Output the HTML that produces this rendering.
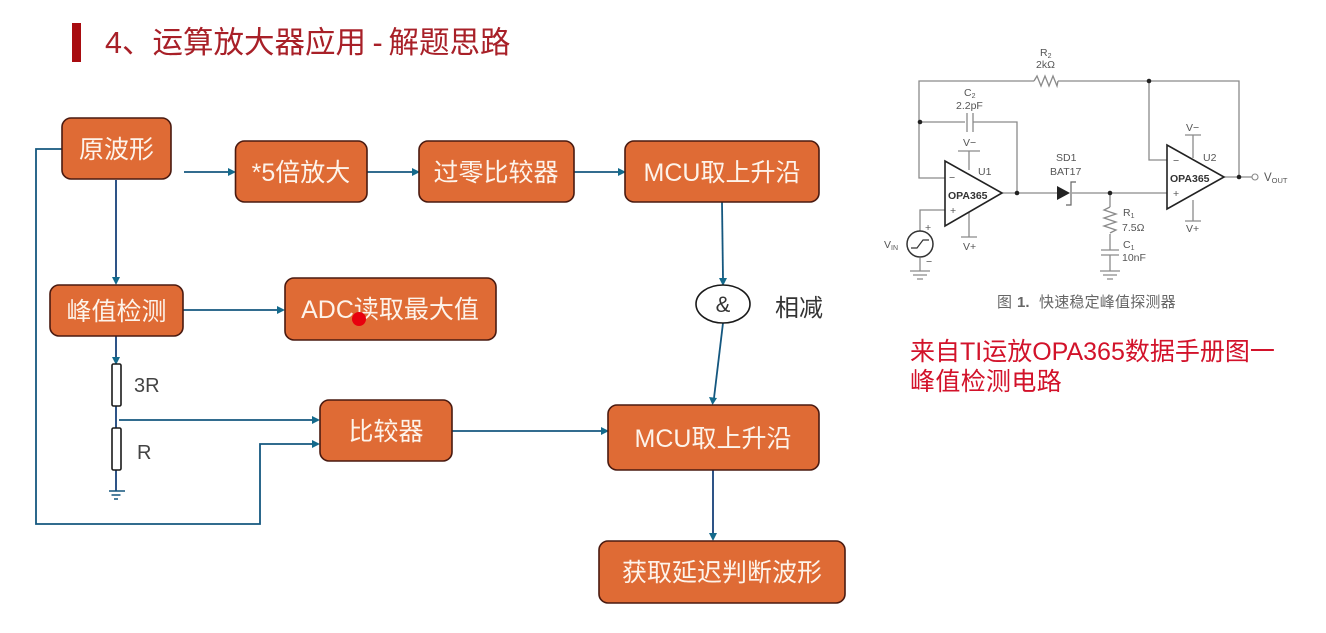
<!DOCTYPE html>
<html><head><meta charset="utf-8">
<style>
html,body{margin:0;padding:0;background:#fff;width:1326px;height:633px;overflow:hidden}
svg{display:block;filter:blur(.3px)}
text{font-family:"Liberation Sans","Noto Sans CJK SC",sans-serif}
.b{fill:#DF6B35;stroke:#4a1a10;stroke-width:1.6}
.t{fill:#FDF3EA;font-size:25px;text-anchor:middle}
.c{fill:none;stroke:#14577f;stroke-width:1.8}
.n{fill:none;stroke:#17427a;stroke-width:1.8}
.ah{fill:#146a8c}
.s{fill:none;stroke:#8a8a8a;stroke-width:1.3}
.l{fill:#555;font-size:10.5px}
.sub{font-size:7px}
.d{fill:#222}
</style></head><body>
<svg width="1326" height="633" viewBox="0 0 1326 633" xmlns="http://www.w3.org/2000/svg">
<rect width="1326" height="633" fill="#fff"/>
<rect x="72" y="23" width="9" height="39" fill="#A80C10"/>
<text x="105" y="53" font-size="30.5" fill="#A82028">4、运算放大器应用<tspan x="372.500">-</tspan><tspan x="388.500">解题思路</tspan></text>

<!-- connectors -->
<path class="c" d="M62 149H36V524H260V444H313"/>
<path class="n" d="M116 180V278"/>
<path class="c" d="M184 172H228"/>
<path class="c" d="M367 172H412"/>
<path class="c" d="M574 172H618"/>
<path class="c" d="M183 310H278"/>
<path class="n" d="M116 336V358"/>
<path class="n" d="M116 405V428"/>
<path class="c" d="M119 420H313"/>
<path class="n" d="M116 470V491"/>
<path class="c" d="M452 431H601"/>
<path class="c" d="M722 202L723 279"/>
<path class="c" d="M723 323L714 398"/>
<path class="n" d="M713 470V534"/>
<path class="ah" d="M112 277h8l-4 8zM228 168v8l8-4zM412 168v8l8-4zM618 168v8l8-4zM277 306v8l8-4zM112 357h8l-4 8zM312 416v8l8-4zM312 440v8l8-4zM601 427v8l8-4zM719 278h8l-4 8zM709 397l8 1-4.500 7zM709 533h8l-4 8z"/>

<!-- ground -->
<path d="M109 491H125M111.500 495H120.500M114 499H118" stroke="#14577f" stroke-width="1.500" fill="none"/>

<!-- resistors -->
<rect x="112" y="364" width="9" height="42" rx="1.500" fill="#fff" stroke="#1a1a1a" stroke-width="1.600"/>
<rect x="112" y="428" width="9" height="42" rx="1.500" fill="#fff" stroke="#1a1a1a" stroke-width="1.600"/>
<text x="134" y="392" font-size="20" fill="#444">3R</text>
<text x="137" y="459" font-size="20" fill="#444">R</text>

<!-- boxes -->
<rect class="b" x="62" y="118" width="109" height="61" rx="9"/>
<text class="t" x="116.500" y="158">原波形</text>
<rect class="b" x="235.500" y="141" width="131.500" height="61" rx="9"/>
<text class="t" x="301" y="181">*5倍放大</text>
<rect class="b" x="419" y="141" width="155" height="61" rx="9"/>
<text class="t" x="496" y="181">过零比较器</text>
<rect class="b" x="625" y="141" width="194" height="61" rx="9"/>
<text class="t" x="722" y="181">MCU取上升沿</text>
<rect class="b" x="50" y="285" width="133" height="51" rx="9"/>
<text class="t" x="116.500" y="320">峰值检测</text>
<rect class="b" x="285" y="278" width="211" height="62" rx="9"/>
<text class="t" x="390" y="318">ADC读取最大值</text>
<rect class="b" x="320" y="400" width="132" height="61" rx="9"/>
<text class="t" x="386" y="440">比较器</text>
<rect class="b" x="608" y="405" width="211" height="65" rx="9"/>
<text class="t" x="713" y="447">MCU取上升沿</text>
<rect class="b" x="599" y="541" width="246" height="62" rx="9"/>
<text class="t" x="722" y="581">获取延迟判断波形</text>
<circle cx="359" cy="319" r="7" fill="#E8000E"/>

<!-- & node -->
<ellipse cx="723" cy="304" rx="27" ry="19" fill="#fff" stroke="#1a1a1a" stroke-width="1.600"/>
<text x="723" y="312" font-size="22" fill="#333" text-anchor="middle">&amp;</text>
<text x="775" y="316" font-size="24" fill="#333">相减</text>

<!-- circuit wires -->
<path class="s" d="M1034 81H919V178H945"/>
<path class="s" d="M1058 81H1239V177"/>
<path class="s" d="M919 122H965M973 122H1017V193"/>
<path class="s" d="M1002 193H1057M1072 193H1167"/>
<path class="s" d="M1149 81V160H1167"/>
<path class="s" d="M1224 177H1252"/>
<path class="s" d="M969 151V170M958 151H980"/>
<path class="s" d="M969 210V237M961 237H977"/>
<path class="s" d="M945 210H920V231"/>
<path class="s" d="M920 258V271M910 271H930M913 275H927M917 279H923"/>
<path class="s" d="M1193 135V158M1185 135H1201"/>
<path class="s" d="M1193 200V221M1185 221H1201"/>
<path class="s" d="M1110 193V207M1110 234V250M1101 250H1119M1101 255H1119M1110 255V271M1100 271H1120M1103 275H1117M1107 279H1113"/>
<path class="s" d="M1034 81l3-5 4 10 4-10 4 10 4-10 4 10 1-5" stroke="#555"/>
<path class="s" d="M1110 207l-6 3 12 4-12 4 12 4-12 4 12 4-6 3" stroke="#555"/>
<path class="s" d="M967 113V132M973 113V132"/>

<!-- opamps -->
<path d="M945 161V226L1002 193Z" fill="#fff" stroke="#222" stroke-width="1.600"/>
<path d="M1167 145V209L1224 177Z" fill="#fff" stroke="#222" stroke-width="1.600"/>
<text x="948" y="199" font-size="10.500" font-weight="bold" fill="#333">OPA365</text>
<text x="1170" y="182" font-size="10.500" font-weight="bold" fill="#333">OPA365</text>
<text class="l" x="949" y="181">−</text><text class="l" x="950" y="214">+</text>
<text class="l" x="1173" y="164">−</text><text class="l" x="1173" y="197">+</text>

<!-- diode -->
<path d="M1057 186V200L1070 193Z" fill="#222"/>
<path d="M1076 182H1071V205H1066" fill="none" stroke="#666" stroke-width="1.200"/>

<!-- source -->
<circle cx="920" cy="244" r="13" fill="#fff" stroke="#333" stroke-width="1.500"/>
<path d="M911 248H917L923 240H929" fill="none" stroke="#333" stroke-width="1.200"/>

<!-- dots -->
<circle class="d" cx="920" cy="122" r="2.300"/>
<circle class="d" cx="1017" cy="193" r="2.300"/>
<circle class="d" cx="1110" cy="193" r="2.300"/>
<circle class="d" cx="1149" cy="81" r="2.300"/>
<circle class="d" cx="1239" cy="177" r="2.300"/>
<circle cx="1255" cy="177" r="3" fill="#fff" stroke="#888" stroke-width="1.100"/>

<!-- circuit labels -->
<text class="l" x="1040" y="56">R<tspan class="sub" dy="2">2</tspan></text>
<text class="l" x="1036" y="68">2kΩ</text>
<text class="l" x="964" y="96">C<tspan class="sub" dy="2">2</tspan></text>
<text class="l" x="956" y="109">2.2pF</text>
<text class="l" x="963" y="146">V−</text>
<text class="l" x="978" y="175">U1</text>
<text class="l" x="1056" y="161">SD1</text>
<text class="l" x="1050" y="175">BAT17</text>
<text class="l" x="963" y="250">V+</text>
<text class="l" x="884" y="248">V<tspan class="sub" dy="2">IN</tspan></text>
<text class="l" x="925" y="231" font-size="9">+</text>
<text class="l" x="926" y="265">−</text>
<text class="l" x="1123" y="216">R<tspan class="sub" dy="2">1</tspan></text>
<text class="l" x="1122" y="231">7.5Ω</text>
<text class="l" x="1123" y="248">C<tspan class="sub" dy="2">1</tspan></text>
<text class="l" x="1122" y="261">10nF</text>
<text class="l" x="1186" y="131">V−</text>
<text class="l" x="1203" y="161">U2</text>
<text class="l" x="1186" y="232">V+</text>
<text x="1264" y="181" font-size="11.500" fill="#555">V<tspan font-size="7.500" dy="2">OUT</tspan></text>
<text x="997" y="307" font-size="15" fill="#666">图<tspan x="1017" font-weight="bold">1.</tspan><tspan x="1039" letter-spacing=".2">快速稳定峰值探测器</tspan></text>

<text x="910" y="360" font-size="25" fill="#D2122A">来自TI运放OPA365数据手册图一</text>
<text x="910" y="390" font-size="25" letter-spacing=".35" fill="#D2122A">峰值检测电路</text>
</svg>
</body></html>
